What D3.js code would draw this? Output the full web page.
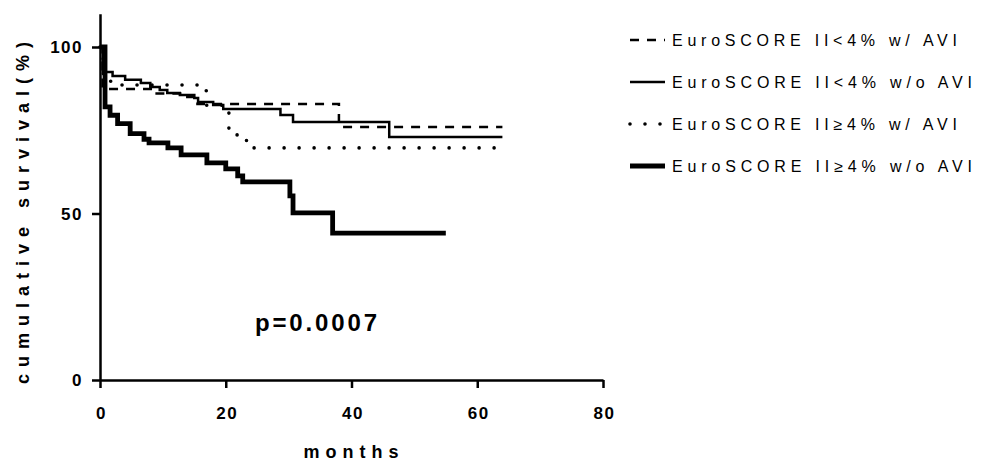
<!DOCTYPE html>
<html>
<head>
<meta charset="utf-8">
<script src="https://cdn.jsdelivr.net/npm/d3@7"></script>
<style>
  html, body { margin: 0; padding: 0; background: #fff; }
  svg { display: block; font-family: "Liberation Sans", Arial, sans-serif; }
</style>
</head>
<body>
<svg id="chart" width="986" height="463"></svg>
<script>
// ---- data ----
const xTicks = [0, 20, 40, 60, 80];
const yTicks = [0, 50, 100];
const xTitle = "months";
const yTitle = "cumulative survival(%)";
const pText = "p=0.0007";

const seriesNames = [
  "EuroSCORE II<4% w/ AVI",
  "EuroSCORE II<4% w/o AVI",
  "EuroSCORE II\u22654% w/ AVI",
  "EuroSCORE II\u22654% w/o AVI"
];

// step points: time (months), survival (%)
const lowAVI_t = [0, 0.4, 8.5, 13, 15.5, 38, 64];
const lowAVI_s = [100, 87.4, 86, 85, 82.9, 76, 76];

const lowNoAVI_t = [0, 0.5, 2, 4, 6.5, 8, 9.5, 10.7, 12.7, 15, 15.6, 18, 19.6, 28.7, 30.7, 46, 64];
const lowNoAVI_s = [100, 92.5, 91.3, 90.2, 89.2, 88, 87.1, 86.2, 85.6, 84.7, 83.5, 82.6, 81.4, 79.6, 77.5, 73, 73];

const highAVI_t = [0, 0.5, 1.7, 16.9, 20.5, 23.3, 65];
const highAVI_s = [100, 92, 88.6, 82.5, 73.6, 69.7, 69.7];

const highNoAVI_t = [0, 0.8, 1.6, 2.8, 4.8, 7, 7.8, 10.8, 12.9, 17, 20, 21.9, 22.7, 30.2, 30.7, 37, 55];
const highNoAVI_s = [100, 82, 79.5, 77, 74, 72.3, 71.2, 69.7, 67.6, 65.2, 63.4, 61.3, 59.5, 55.3, 50.2, 44.1, 44.1];

// ---- styles ----
const styles = [
  { width: 2.5, dash: "9,8", cap: "butt" },
  { width: 2.5, dash: null, cap: "butt" },
  { width: 3.6, dash: "0,15", cap: "round" },
  { width: 4.8, dash: null, cap: "butt" }
];

const series = [
  { t: lowAVI_t, s: lowAVI_s },
  { t: lowNoAVI_t, s: lowNoAVI_s },
  { t: highAVI_t, s: highAVI_s },
  { t: highNoAVI_t, s: highNoAVI_s }
].map((d, i) => ({ name: seriesNames[i], pts: d.t.map((t, j) => [t, d.s[j]]), style: styles[i] }));

const svg = d3.select("#chart");

const x = d3.scaleLinear().domain([0, 80]).range([100, 603]);
const y = d3.scaleLinear().domain([0, 110]).range([380, 13.7]);

// axes
const xAxis = svg.append("g").attr("transform", "translate(0,380)")
  .call(d3.axisBottom(x).tickValues(xTicks).tickSize(8).tickSizeOuter(0).tickPadding(19));
const yAxis = svg.append("g").attr("transform", "translate(100,0)")
  .call(d3.axisLeft(y).tickValues(yTicks).tickSize(8).tickSizeOuter(0).tickPadding(9));

[xAxis, yAxis].forEach(g => {
  g.attr("font-size", null).attr("font-family", null);
  g.selectAll("path.domain").attr("stroke", "#000").attr("stroke-width", 2.5);
  g.selectAll(".tick line").attr("stroke", "#000").attr("stroke-width", 2.5);
  g.selectAll(".tick text")
    .attr("fill", "#000")
    .style("font-family", "'Liberation Sans', Arial, sans-serif")
    .style("font-size", "17px")
    .style("font-weight", "bold")
    .style("letter-spacing", "1.5px");
});
xAxis.selectAll(".tick text").attr("dx", "1px");
yAxis.selectAll(".tick text").attr("dy", "0.35em");

// lines
const line = d3.line().x(d => x(d[0])).y(d => y(d[1])).curve(d3.curveStepAfter);

series.forEach(sr => {
  svg.append("path")
    .datum(sr.pts)
    .attr("d", line)
    .attr("fill", "none")
    .attr("stroke", "#000")
    .attr("stroke-width", sr.style.width)
    .attr("stroke-linecap", sr.style.cap)
    .attr("stroke-linejoin", "miter")
    .attr("stroke-dasharray", sr.style.dash);
});

// legend
const legend = svg.append("g");
series.forEach((sr, i) => {
  const yy = 40 + i * 42;
  legend.append("line")
    .attr("x1", 630).attr("x2", 665).attr("y1", yy).attr("y2", yy)
    .attr("stroke", "#000")
    .attr("stroke-width", sr.style.width)
    .attr("stroke-linecap", sr.style.cap)
    .attr("stroke-dasharray", sr.style.dash);
  legend.append("text")
    .attr("x", 672).attr("y", yy)
    .attr("dy", "0.36em")
    .attr("textLength", i % 2 === 0 ? 285 : 300)
    .attr("lengthAdjust", "spacing")
    .style("font-size", "16px")
    .attr("fill", "#000")
    .text(sr.name);
});

// axis titles
svg.append("text")
  .attr("x", 351).attr("y", 458)
  .attr("text-anchor", "middle")
  .attr("textLength", 95).attr("lengthAdjust", "spacing")
  .style("font-size", "18px").style("font-weight", "bold")
  .text(xTitle);

svg.append("text")
  .attr("transform", "translate(29,213) rotate(-90)")
  .attr("text-anchor", "middle")
  .attr("textLength", 342).attr("lengthAdjust", "spacing")
  .style("font-size", "18px").style("font-weight", "bold")
  .text(yTitle);

// p value
svg.append("text")
  .attr("x", 255).attr("y", 331)
  .attr("textLength", 122).attr("lengthAdjust", "spacing")
  .style("font-size", "24px").style("font-weight", "bold")
  .text(pText);
</script>
</body>
</html>
